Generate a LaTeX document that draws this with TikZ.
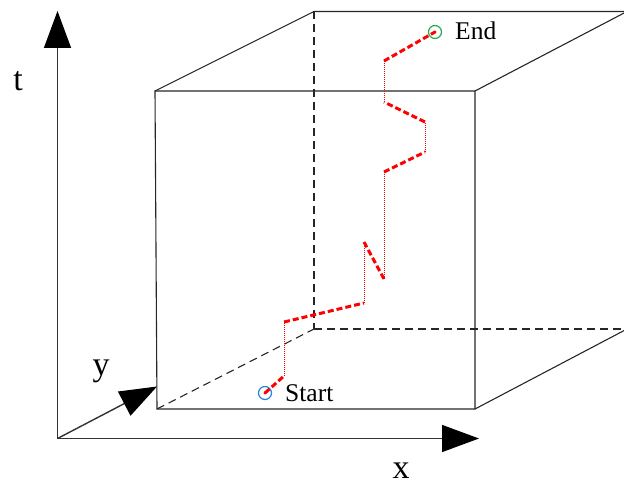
\documentclass[tikz,border=0pt]{standalone}
\usepackage{fontspec}
\setmainfont{Liberation Serif}
\usetikzlibrary{arrows.meta}
\definecolor{startblue}{RGB}{40,130,220}
\definecolor{endgreen}{RGB}{30,170,80}
\begin{document}
\begin{tikzpicture}[x=1pt,y=-1pt,
  edge/.style={line width=1.1pt,draw=black!85},
  hidden/.style={line width=1.1pt,draw=black!85,dash pattern=on 8pt off 5pt},
  axis/.style={line width=1.4pt,draw=black!80,-{Triangle[length=37pt,width=27pt,fill=black,color=black]}},
  axlabel/.style={font=\fontsize{34}{34}\selectfont,inner sep=0pt},
  ptlabel/.style={font=\fontsize{25.5}{25.5}\selectfont,inner sep=0pt,anchor=west},
  leg/.style={red,line width=3pt,dash pattern=on 6pt off 3pt},
  hop/.style={red,line width=0.9pt,dash pattern=on 1pt off 1pt},
  ptmark/.style={circle,draw,line width=1.2pt,minimum size=13pt,inner sep=0pt}
]
\clip (0,0) rectangle (624,486);
% cube corners
\coordinate (ftl) at (155,91);
\coordinate (ftr) at (475,91);
\coordinate (fbl) at (157,409);
\coordinate (fbr) at (475,409);
\coordinate (btl) at (314,11.5);
\coordinate (btr) at (627,11.5);
\coordinate (bbl) at (314,329);
\coordinate (bbr) at (627,329);
% hidden edges
\draw[hidden] (btl) -- (bbl);
\draw[hidden] (bbl) -- (bbr);
\draw[hidden] (fbl) -- (bbl);
% visible edges
\draw[edge] (ftl) -- (ftr) -- (fbr) -- (fbl) -- cycle;
\draw[edge] (ftl) -- (btl) -- (btr);
\draw[edge] (ftr) -- (btr);
\draw[edge] (fbr) -- (bbr);
\draw[edge] (btr) -- (bbr);
% axes
\coordinate (o) at (57.5,438.5);
\coordinate (tend) at (57.5,11);
\coordinate (xend) at (479,438.5);
\coordinate (yend) at (157,386.5);
\draw[axis] (o) -- (tend);
\draw[axis] (o) -- (xend);
\draw[axis] (o) -- (yend);
\node[axlabel] (tl) at (18,81) {t};
\node[axlabel] (xl) at (401,471) {x};
\node[axlabel] (yl) at (101,371) {y};
% path
\node[ptmark,draw=startblue] (s) at (265,393) {};
\node[ptmark,draw=endgreen] (e) at (435,32) {};
\fill[red] (s.center) circle (1.6pt);
\fill[red] (e.center) circle (1.6pt);
\node[ptlabel] (sl) at (285,393) {Start};
\node[ptlabel] (el) at (455,31) {End};
\coordinate (p1) at (284,376);
\coordinate (p2) at (284,322);
\coordinate (p3) at (364,303);
\coordinate (p4) at (364,242);
\coordinate (p5) at (384,279);
\coordinate (p6) at (384,172);
\coordinate (p7) at (425,152);
\coordinate (p8) at (425,122);
\coordinate (p9) at (384,102);
\coordinate (p10) at (384,61);
\draw[leg] (s.center) -- (p1);
\draw[hop] (p1) -- (p2);
\draw[leg] (p2) -- (p3);
\draw[hop] (p3) -- (p4);
\draw[leg] (p4) -- (p5);
\draw[hop] (p5) -- (p6);
\draw[leg] (p6) -- (p7);
\draw[hop] (p7) -- (p8);
\draw[leg] (p8) -- (p9);
\draw[hop] (p9) -- (p10);
\draw[leg] (p10) -- (e.center);
\end{tikzpicture}
\end{document}
